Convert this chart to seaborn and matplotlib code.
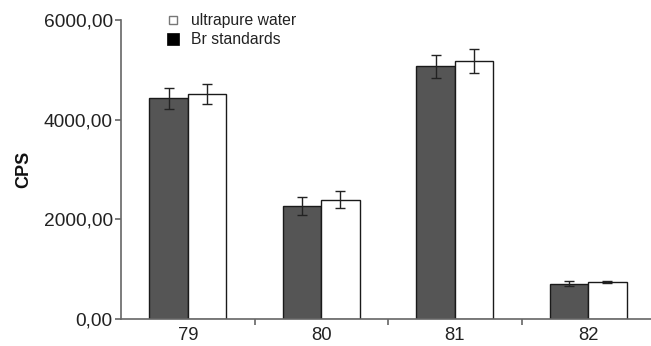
import matplotlib
matplotlib.use("Agg")
import matplotlib.pyplot as plt
from matplotlib.lines import Line2D
from matplotlib.ticker import FixedLocator, FuncFormatter
import seaborn as sns
import pandas as pd
import numpy as np

categories = ["79", "80", "81", "82"]
series = ["Br standards", "ultrapure water"]
br_values = [4430, 2268, 5069, 700]
br_errors = [210, 180, 225, 55]
water_values = [4513, 2388, 5176, 734]
water_errors = [200, 170, 240, 15]
y_ticks = [0, 2000, 4000, 6000]

df = pd.DataFrame({
    "mass": categories * 2,
    "series": [series[0]] * 4 + [series[1]] * 4,
    "cps": br_values + water_values,
})
errs = br_errors + water_errors

sns.set_style("white")
plt.rcParams["font.family"] = ["Liberation Sans", "DejaVu Sans"]

fig = plt.figure(figsize=(6.51, 3.46), dpi=100)
ax = fig.add_axes([121 / 651, 1 - 318.5 / 346, 1 - 121 / 651, (318.5 - 20) / 346])

palette = {series[0]: "#555555", series[1]: "#ffffff"}
sns.barplot(data=df, x="mass", y="cps", hue="series", order=categories,
            hue_order=series, palette=palette, width=0.574, gap=0,
            edgecolor="#1a1a1a", linewidth=1.0, saturation=1, ax=ax, legend=False)

bars = [p for p in ax.patches if p.get_height() > 0]
bars = sorted(bars, key=lambda p: (p.get_facecolor()[0] > 0.5, p.get_x()))
xs = [b.get_x() + b.get_width() / 2 for b in bars]
hs = [b.get_height() for b in bars]
ax.errorbar(xs, hs, yerr=errs, fmt="none", ecolor="#222222", elinewidth=1.0,
            capsize=3.6, capthick=1.0)

ax.set_ylim(0, 6000)
ax.set_xlim(-0.5, 3.47)
ax.set_yticks(y_ticks)
ax.yaxis.set_major_formatter(FuncFormatter(lambda v, p: f"{v:.2f}".replace(".", ",")))
ax.set_xlabel("")
ax.set_ylabel("CPS", fontsize=13, fontweight="bold", color="#111111", labelpad=8)

for s in ["top", "right"]:
    ax.spines[s].set_visible(False)
for s in ["left", "bottom"]:
    ax.spines[s].set_color("#666666")
    ax.spines[s].set_linewidth(1.2)

ax.tick_params(axis="y", which="major", direction="out", length=4, width=1.2,
               color="#666666", labelsize=13.8, labelcolor="#222222", left=True, pad=2)
ax.tick_params(axis="x", which="major", length=0, labelsize=13.3, labelcolor="#222222", pad=6)
ax.xaxis.set_minor_locator(FixedLocator([0.5, 1.5, 2.5]))
ax.tick_params(axis="x", which="minor", direction="out", length=4, width=1.2,
               color="#666666", bottom=True)

handles = [Line2D([], [], linestyle="none", marker="s", markersize=6.0,
                  markerfacecolor="#ffffff", markeredgecolor="#777777", markeredgewidth=1.0,
                  label="ultrapure water"),
           Line2D([], [], linestyle="none", marker="s", markersize=8.6,
                  markerfacecolor="#000000", markeredgecolor="#000000", markeredgewidth=0.5,
                  label="Br standards")]
fig.legend(handles=handles, loc="upper left", bbox_to_anchor=(153 / 651, 1 + 1 / 346),
           frameon=False, fontsize=11.3, handlelength=0.75, handleheight=0.75,
           handletextpad=0.77, labelspacing=0.27, labelcolor="#222222")

fig.savefig("out.png", dpi=100)
